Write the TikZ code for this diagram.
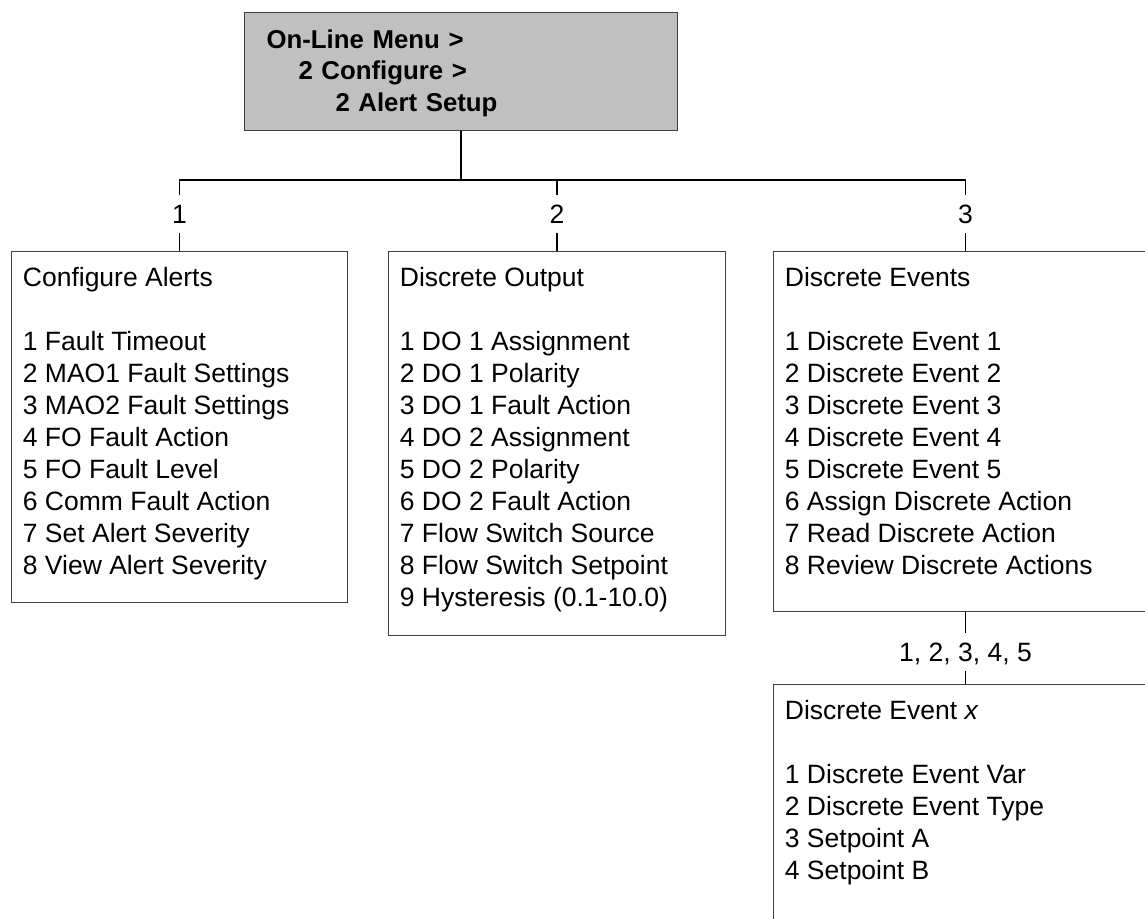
\documentclass[tikz,border=0pt]{standalone}
\usepackage{fontspec}
\setmainfont{Liberation Sans}
\usetikzlibrary{positioning}
\definecolor{menuGray}{HTML}{C0C0C0}
\definecolor{boxLine}{HTML}{404040}
\tikzset{
  link/.style={line width=0.75pt, black},
  menubox/.style={draw=boxLine, line width=0.5pt, fill=menuGray, anchor=north west,
    minimum width=216.5pt, minimum height=59pt, text width=194.5pt, inner xsep=11pt,
    inner ysep=0pt, align=left, font=\fontsize{12.9pt}{15.75pt}\selectfont\bfseries},
  listbox/.style={draw=boxLine, line width=0.5pt, anchor=north west, inner sep=0pt},
  listtext/.style={anchor=north west, align=left, inner xsep=5.75pt, inner ysep=8pt,
    font=\fontsize{13.25pt}{16pt}\selectfont},
  numlabel/.style={inner xsep=2pt, inner ysep=4.75pt, outer sep=0pt, text height=9.5pt,
    text depth=0pt, font=\fontsize{13.25pt}{16pt}\selectfont}
}
\begin{document}
\begin{tikzpicture}[x=0.5pt,y=-0.5pt]
  \useasboundingbox (0,0) rectangle (1145,918);
  % menu path
  \node[menubox] (menu) at (244,12) {\rule{0pt}{11pt}On-Line Menu >\\\hspace*{16pt}2 Configure >\\\hspace*{34.5pt}2 Alert Setup};
  % sub menus
  \node[listbox, minimum width=168pt, minimum height=175.5pt] (alerts) at (11,251) {};
  \node[listtext] (alerts-text) at (alerts.north west) {Configure Alerts\\[16pt]1 Fault Timeout\\2 MAO1 Fault Settings\\3 MAO2 Fault Settings\\4 FO Fault Action\\5 FO Fault Level\\6 Comm Fault Action\\7 Set Alert Severity\\8 View Alert Severity};
  \node[listbox, minimum width=168.5pt, minimum height=192pt] (output) at (388,251) {};
  \node[listtext] (output-text) at (output.north west) {Discrete Output\\[16pt]1 DO 1 Assignment\\2 DO 1 Polarity\\3 DO 1 Fault Action\\4 DO 2 Assignment\\5 DO 2 Polarity\\6 DO 2 Fault Action\\7 Flow Switch Source\\8 Flow Switch Setpoint\\9 Hysteresis (0.1-10.0)};
  \node[listbox, minimum width=192pt, minimum height=180pt] (events) at (773,251) {};
  \node[listtext] (events-text) at (events.north west) {Discrete Events\\[16pt]1 Discrete Event 1\\2 Discrete Event 2\\3 Discrete Event 3\\4 Discrete Event 4\\5 Discrete Event 5\\6 Assign Discrete Action\\7 Read Discrete Action\\8 Review Discrete Actions};
  \node[listbox, minimum width=192pt, minimum height=130pt] (eventx) at (773,684) {};
  \node[listtext] (eventx-text) at (eventx.north west) {Discrete Event \textit{x}\\[16pt]1 Discrete Event Var\\2 Discrete Event Type\\3 Setpoint A\\4 Setpoint B};
  % choice numbers
  \node[numlabel, above=9pt of alerts] (lab1) {1};
  \node[numlabel, above=9pt of output] (lab2) {2};
  \node[numlabel, above=9pt of events] (lab3) {3};
  \node[numlabel, below=10.5pt of events] (lab4) {1, 2, 3, 4, 5};
  \coordinate[below=24.5pt of menu.south] (bus);
  % connectors
  \draw[link] (menu) -- (bus);
  \draw[link] (lab1) |- (bus) -| (lab3);
  \draw[link] (lab2 |- bus) -- (lab2);
  \foreach \lab/\tgt in {lab1/alerts,lab2/output,lab3/events}{
    \draw[link] (\lab) -- (\tgt);
  }
  \draw[link] (events) -- (lab4) -- (eventx);
\end{tikzpicture}
\end{document}
